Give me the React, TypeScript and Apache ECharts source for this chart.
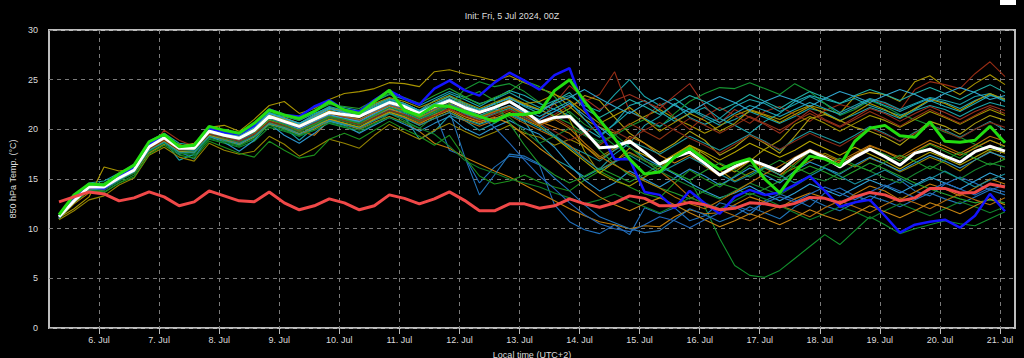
import React, { useEffect, useRef } from "react";
import * as echarts from "echarts";

const titleText = "Init: Fri, 5 Jul 2024, 00Z";
const yAxisName = "850 hPa Temp. (°C)";
const xAxisName = "Local time (UTC+2)";

// time: hours after 5 Jul 00:00 local
const firstHour = 8;
const stepHours = 6;
const axisMinHour = 4;
const axisMaxHour = 390;
const dayLabels = ["6. Jul", "7. Jul", "8. Jul", "9. Jul", "10. Jul", "11. Jul", "12. Jul", "13. Jul", "14. Jul", "15. Jul", "16. Jul", "17. Jul", "18. Jul", "19. Jul", "20. Jul", "21. Jul"];
const dayHours = [24, 48, 72, 96, 120, 144, 168, 192, 216, 240, 264, 288, 312, 336, 360, 384];
const yTicks = [0, 5, 10, 15, 20, 25, 30];

const meanT = [
  11.2, 12.8, 14.2, 14.2, 15.1, 15.9, 18.25, 19.15,
  18.1, 18.1, 19.8, 19.4, 19.1, 19.9, 21.3, 20.8,
  20.3, 21.0, 21.7, 21.5, 21.3, 22.0, 22.7, 22.3,
  21.6, 22.3, 22.9, 22.2, 21.7, 22.2, 22.8, 21.9,
  20.7, 21.2, 21.3, 19.8, 18.15, 18.25, 18.8, 17.7,
  16.5, 17.2, 17.7, 16.6, 15.4, 16.25, 16.95, 16.4,
  15.8, 17.0, 17.85, 17.15, 16.2, 17.2, 18.0, 17.25,
  16.4, 17.6, 18.0, 17.3, 16.7, 17.75, 18.3, 17.8,
];
const controlT = [
  11.4, 13.4, 14.5, 14.4, 15.5, 16.4, 18.75, 19.5,
  18.25, 18.4, 20.3, 19.9, 19.6, 20.6, 21.95, 21.45,
  21.1, 21.8, 22.8, 21.95, 21.6, 22.8, 23.95, 21.9,
  21.4, 22.4, 22.3, 21.8, 21.3, 20.8, 21.5, 21.5,
  21.75, 23.9, 25.0, 22.8, 20.95, 19.1, 17.0, 15.5,
  15.7, 17.2, 18.1, 16.95, 15.95, 16.6, 17.05, 15.0,
  13.6, 15.7, 17.3, 17.0, 16.35, 18.8, 20.1, 20.4,
  19.35, 19.2, 20.75, 18.8, 18.7, 18.9, 20.3, 18.65,
];
const operT = [
  11.2, 13.0, 14.2, 14.05, 15.2, 16.1, 18.5, 19.3,
  18.1, 18.2, 20.1, 19.7, 19.5, 20.4, 22.0, 21.45,
  21.3, 22.3, 22.95, 21.95, 21.8, 22.95, 23.9, 23.1,
  22.5, 24.1, 24.9, 23.95, 23.4, 24.7, 25.7, 24.9,
  24.0, 25.45, 26.15, 22.0, 19.8, 17.0, 17.0, 13.7,
  13.4, 12.05, 13.8, 12.55, 11.5, 13.2, 13.9, 13.4,
  13.65, 14.4, 15.3, 13.8, 12.2, 12.65, 12.9, 11.3,
  9.6, 10.4, 10.7, 10.9, 10.1, 11.3, 13.5, 11.75,
];
const climT = [
  12.7, 13.2, 13.7, 13.5, 12.8, 13.1, 13.7, 13.2,
  12.3, 12.7, 13.8, 13.3, 12.8, 12.7, 13.7, 12.6,
  11.9, 12.3, 13.0, 12.6, 11.9, 12.3, 13.4, 13.05,
  12.5, 13.0, 13.7, 12.85, 11.8, 11.8, 12.5, 12.5,
  12.05, 12.3, 13.0, 12.5, 12.15, 12.6, 13.3, 13.05,
  12.3, 12.3, 12.65, 12.4, 11.9, 12.05, 12.6, 12.5,
  12.2, 12.55, 13.15, 13.05, 12.6, 13.2, 13.65, 13.4,
  12.8, 13.1, 14.05, 14.05, 13.6, 13.65, 14.5, 14.2,
];

const mA = [11.0,13.2,14.6,14.8,15.6,16.4,18.8,19.6, 18.6,18.4,20.3,19.9,19.6,20.5,22.0,21.4, 21.0,21.8,22.6,22.2,21.9,22.8,23.5,23.0, 22.4,23.1,23.8,23.2,22.6,23.0,23.7,22.9, 22.2,22.9,23.4,22.4,21.8,23.5,25.0,23.3, 22.4,23.1,22.0,21.2,20.4,21.0,21.8,21.2, 20.6,21.3,22.1,21.7,20.9,21.5,22.2,21.7, 21.1,21.9,22.4,22.0,21.3,22.1,22.7,22.3];
const mB = [11.1,12.0,13.2,16.2,15.8,16.0,18.3,19.0, 18.5,18.0,20.2,20.4,19.8,21.0,22.4,22.8, 21.6,22.1,23.0,23.6,23.8,24.1,24.7,24.6, 24.3,25.8,26.0,25.6,25.3,24.9,25.4,24.7, 24.1,23.6,22.3,21.0,20.2,19.6,20.5,21.3, 22.0,21.1,20.4,19.6,20.3,21.4,22.0,21.5, 21.0,21.8,22.4,22.0,21.6,23.3,23.7,23.5, 22.8,24.8,25.4,24.3,23.5,24.6,25.5,24.5];
const mC = [11.3,13.0,14.3,14.1,15.0,15.7,18.0,19.9, 18.9,18.3,19.5,19.0,18.7,19.4,20.8,20.5, 20.0,20.4,21.0,20.6,20.1,20.9,21.6,21.2, 20.5,21.4,22.0,21.5,21.0,21.8,22.4,21.6, 20.8,21.5,22.4,22.8,23.5,25.8,21.8,21.0, 22.6,21.2,20.0,21.3,22.2,21.4,20.6,21.8, 22.3,21.5,20.8,21.9,22.5,22.1,23.0,22.6, 21.9,24.0,24.8,24.5,24.1,25.6,26.8,25.3];
const mD = [11.1,12.6,13.9,13.7,14.6,15.4,17.7,18.6, 17.6,17.3,19.0,18.6,18.2,18.8,20.2,19.8, 19.3,20.1,20.8,20.6,20.2,21.0,21.8,21.5, 20.8,21.6,22.3,21.7,21.0,21.5,22.2,21.4, 20.6,21.0,21.8,20.5,19.6,18.4,17.6,16.8, 16.2,15.6,14.9,12.2,9.0,6.3,5.3,5.1, 5.8,7.0,8.2,9.4,8.4,9.8,11.2,10.4, 9.5,10.0,10.4,10.8,10.5,10.3,11.0,11.7];
const mE = [11.4,13.3,14.4,14.5,15.5,16.5,18.4,19.2, 17.8,17.0,19.5,19.2,18.9,19.7,21.0,20.4, 19.8,20.6,21.3,21.2,20.9,21.6,22.2,21.9, 21.3,21.8,17.9,17.3,14.6,16.2,17.3,17.1, 16.4,12.4,10.7,9.9,9.5,10.4,9.4,12.1, 11.5,12.1,10.8,11.3,12.6,12.2,11.4,12.8, 13.5,12.9,12.2,13.6,14.1,13.3,12.8,14.2, 14.9,13.8,13.3,14.5,15.2,14.6,13.9,14.4];
const mF = [11.0,12.5,13.6,13.9,14.9,15.6,17.6,18.5, 18.0,17.6,19.3,19.0,18.6,19.3,20.7,20.2, 19.6,20.0,20.9,20.5,20.0,20.7,21.3,20.7, 19.8,18.6,18.1,17.2,16.5,15.8,15.2,14.4, 13.6,12.8,12.0,11.3,10.7,10.4,10.0,10.3, 10.2,11.2,11.9,11.5,11.6,12.4,13.2,12.7, 12.1,13.0,13.6,13.1,12.4,13.5,14.3,13.8, 12.9,13.7,14.5,14.0,13.3,14.1,15.0,14.5];
const mG = [11.3,13.0,14.1,14.3,15.2,16.0,18.1,18.8, 16.9,17.5,19.6,19.1,18.4,19.5,21.1,20.2, 18.9,20.2,21.2,20.8,20.4,21.2,22.0,21.3, 19.0,19.8,21.4,20.9,19.9,20.6,21.5,20.8, 18.6,17.0,16.2,15.2,16.0,17.5,18.6,20.4, 21.3,22.6,21.2,20.5,21.1,22.3,23.0,22.6, 21.8,22.5,23.3,22.6,21.7,22.4,23.1,22.7, 22.0,22.6,23.2,22.9,22.5,23.3,23.6,22.9];
const mH = [11.2,13.1,14.4,14.2,15.3,16.1,18.5,19.5, 18.3,18.6,20.0,19.5,19.3,20.0,21.5,21.2, 20.6,21.4,22.2,21.8,21.5,22.4,23.1,22.6, 21.9,22.6,23.3,22.5,21.8,22.6,23.2,22.5, 22.0,21.3,22.1,23.4,22.9,21.2,19.6,18.6, 17.7,18.6,19.8,18.9,17.4,18.2,19.4,18.6, 17.6,19.3,21.1,21.5,20.9,20.2,19.8,19.2, 18.4,19.6,20.8,20.3,19.5,20.6,21.4,20.9];
const mI = [10.9,11.8,12.9,13.3,14.4,15.1,17.4,18.2, 17.2,16.8,18.6,17.9,17.5,17.8,19.3,18.5, 17.3,18.1,19.0,18.6,18.1,19.4,20.5,19.7, 19.0,19.9,20.6,19.8,19.1,19.7,20.4,19.6, 19.2,18.4,19.0,18.3,17.2,18.1,19.0,17.6, 16.5,17.4,18.3,17.2,15.9,14.8,15.6,16.3, 15.4,16.1,16.8,17.6,16.9,16.2,17.1,16.5, 15.7,16.4,17.2,16.6,15.8,16.9,17.8,17.0];
const mJ = [11.2,12.8,14.0,14.0,14.9,15.8,18.0,18.9, 17.8,17.7,19.2,18.8,18.4,19.0,20.6,20.0, 19.4,19.9,20.6,20.2,19.7,20.5,21.6,20.9, 20.1,21.3,22.4,24.0,24.8,24.3,24.6,23.8, 22.7,21.3,20.6,19.5,18.8,19.4,20.3,21.0, 20.2,21.6,22.8,23.6,24.2,24.1,24.7,24.1, 23.5,24.6,23.8,22.6,21.4,22.0,22.9,22.3, 21.5,21.0,20.4,19.7,19.2,18.5,17.9,18.3];
const mK = [11.1,12.7,14.0,13.9,14.8,15.8,17.9,18.9, 17.9,17.6,19.4,19.0,18.6,19.4,20.8,20.3, 19.5,20.3,21.2,20.9,20.5,21.3,22.0,21.6, 20.8,21.5,21.9,17.3,13.4,15.4,17.5,17.3, 16.5,15.1,13.8,12.4,11.2,10.6,10.0,9.6, 9.8,10.9,12.0,11.4,10.7,11.3,12.2,11.6, 11.0,12.2,13.0,12.3,11.8,12.6,13.3,12.8, 12.2,12.9,13.6,13.0,12.5,13.2,13.9,13.4];
const mL = [11.0,12.6,13.8,13.6,14.6,15.2,17.5,18.4, 17.4,17.1,18.8,18.2,17.6,17.2,18.8,17.9, 17.1,17.4,19.0,19.6,19.0,19.9,20.8,20.0, 19.3,18.4,19.4,17.2,15.3,14.5,14.8,15.4, 14.7,14.2,13.8,14.9,15.8,15.0,14.2,13.5, 13.1,14.6,15.9,15.0,14.2,15.3,16.4,15.7, 15.1,16.4,17.7,17.0,16.4,17.3,18.1,17.5, 16.8,17.6,18.5,17.8,17.1,18.2,18.9,18.3];
const mM = [11.3,13.1,14.5,14.4,15.4,16.3,18.6,19.4, 18.2,18.3,20.1,19.7,19.5,20.3,21.6,21.3, 20.9,21.6,22.2,21.8,21.6,22.5,23.1,22.6, 21.9,22.9,23.6,23.0,22.3,23.1,23.9,23.4, 22.6,22.0,21.4,20.1,19.2,20.6,22.4,22.9, 21.8,20.8,21.6,22.2,21.1,20.4,19.6,20.8, 21.6,22.8,23.4,23.0,22.6,23.1,22.4,21.9, 21.4,22.0,22.9,22.3,21.8,22.6,23.4,23.1];
const mN = [11.2,12.9,14.3,14.4,15.0,15.8,18.1,19.2, 18.0,17.9,19.6,19.1,18.8,19.6,21.0,20.6, 19.8,19.4,20.9,21.0,20.8,21.8,22.5,22.1, 21.2,21.9,22.6,22.0,21.4,21.9,22.4,21.6, 20.8,20.2,19.6,18.3,17.0,17.9,19.3,18.6, 17.4,16.6,17.4,16.3,15.3,16.0,16.8,16.1, 15.4,16.6,17.8,17.2,16.6,17.4,18.3,17.8, 17.0,17.8,18.6,18.0,17.4,18.1,18.9,18.3];
const mO = [11.1,12.8,14.1,14.2,15.1,15.9,18.3,19.0, 18.0,18.1,19.7,19.3,19.0,19.7,21.2,20.7, 20.1,20.8,21.5,21.2,20.9,21.7,22.4,21.9, 21.1,21.8,22.4,21.6,21.1,21.7,22.3,21.5, 20.9,22.6,24.4,23.1,22.0,22.9,23.5,22.8, 22.1,23.4,24.6,22.4,20.6,22.0,21.2,20.5, 19.6,20.8,21.9,21.0,20.3,21.2,22.1,21.6, 20.8,21.6,22.3,21.7,21.0,21.8,22.4,21.9];
const mP = [11.0,12.7,13.9,14.1,15.1,15.8,18.0,18.7, 17.5,17.9,19.3,18.7,17.8,18.9,20.6,19.4, 18.6,19.6,20.8,20.4,19.6,20.4,21.2,20.5, 19.8,20.6,21.3,20.1,19.4,20.2,20.9,20.1, 19.5,18.2,16.4,14.9,13.8,14.6,15.8,15.0, 14.2,15.1,16.0,15.3,14.4,15.2,16.1,15.4, 14.6,15.8,16.7,16.1,15.5,16.4,17.2,16.5, 15.8,16.6,17.4,16.8,16.1,16.9,17.7,17.2];
const mQ = [11.3,13.0,14.2,14.0,15.0,15.7,18.0,19.0, 18.4,18.2,19.9,19.6,19.2,20.1,21.4,21.0, 20.4,21.3,22.1,21.9,21.7,22.6,23.2,22.8, 22.2,22.8,23.4,22.7,22.1,22.7,23.3,22.6, 22.0,22.6,21.0,17.8,15.6,14.8,14.3,15.2, 16.1,17.3,18.4,17.5,16.5,15.7,16.8,18.0, 18.9,20.5,21.3,20.6,19.8,20.6,21.4,20.9, 20.2,21.0,21.8,21.2,20.5,21.3,22.0,21.4];
const mR = [11.2,12.8,14.2,14.3,15.0,15.9,18.2,19.1, 17.9,18.0,19.6,19.2,18.9,19.8,21.1,20.6, 20.0,20.7,21.4,21.0,20.7,21.5,22.1,21.7, 21.0,21.7,22.3,21.6,21.0,21.6,22.1,21.2, 20.5,19.4,18.3,17.6,16.8,17.9,18.8,18.2, 17.5,18.4,19.3,18.6,17.9,18.7,19.5,18.8, 17.9,19.0,19.8,19.2,18.6,19.4,20.3,19.6, 18.8,19.7,20.4,19.9,19.2,20.0,20.8,19.9];
const mS = [11.4,13.2,14.5,14.6,15.4,16.2,18.5,19.3, 18.4,18.3,20.2,19.8,19.5,20.3,21.7,21.4, 20.9,21.8,22.5,22.3,22.1,22.9,23.6,23.2, 22.6,23.4,24.1,23.3,22.5,23.2,23.8,24.9, 24.3,23.3,21.6,19.8,17.9,16.5,15.4,14.8, 14.1,13.6,13.0,13.8,14.6,14.1,13.4,14.0, 14.8,15.6,16.3,15.7,15.0,15.8,16.6,16.0, 15.3,14.6,14.0,13.5,13.0,12.6,12.9,12.6];
const mT = [11.1,12.7,14.0,14.1,15.1,15.7,17.9,18.8, 17.7,17.8,19.4,19.0,18.5,19.3,20.7,20.1, 19.5,20.2,21.0,20.6,20.2,21.1,21.8,21.2, 20.4,21.1,21.7,20.9,20.3,20.9,21.4,20.6, 19.9,19.2,18.4,17.1,15.9,16.8,17.7,16.9, 15.8,14.6,13.2,12.5,11.9,11.3,10.8,11.6, 12.3,11.8,11.2,12.1,12.8,12.2,11.6,12.4, 13.1,12.6,12.0,12.8,13.5,12.9,12.4,13.1];
const mU = [11.3,13.0,14.3,14.5,15.3,16.0,18.3,19.2, 18.1,18.2,20.0,19.5,19.3,20.1,21.4,21.0, 20.5,21.2,22.0,21.7,21.4,22.2,22.9,22.5, 21.8,22.6,23.3,22.6,22.0,22.5,23.2,22.3, 21.6,22.8,23.7,22.1,21.2,22.0,23.0,22.3, 21.5,22.5,23.4,22.8,21.9,22.6,23.5,22.8, 22.1,23.0,23.8,23.2,22.6,23.4,24.0,23.5, 22.9,23.6,24.2,23.6,23.0,23.8,24.5,23.7];
const mV = [11.2,12.9,14.1,14.0,15.0,15.9,18.1,18.9, 18.0,17.8,19.6,19.3,19.0,19.8,21.0,20.5, 20.0,20.8,21.5,21.1,20.8,21.6,22.3,21.8, 21.2,21.9,22.5,21.8,21.3,21.9,22.4,21.7, 21.0,21.8,22.6,21.4,20.2,19.0,18.2,17.1, 16.3,15.5,14.6,13.8,13.1,13.6,14.3,13.5, 12.8,13.6,14.5,13.9,13.3,14.1,14.9,14.3, 13.6,14.4,15.2,14.6,14.0,14.8,15.6,15.0];
const mW = [11.0,12.6,13.9,14.0,14.9,15.7,17.9,18.8, 17.8,17.7,19.4,18.9,18.5,19.2,20.5,20.1, 19.5,20.3,21.0,20.6,20.2,21.0,21.7,21.3, 20.6,21.3,21.9,21.1,20.6,21.1,21.7,21.0, 20.3,19.2,18.0,16.8,15.6,16.7,18.1,17.4, 16.6,17.5,18.4,17.7,16.9,17.7,18.6,17.9, 17.2,17.9,18.8,18.1,17.4,18.2,17.5,16.8, 16.0,16.9,17.7,17.1,16.4,17.2,18.0,17.6];
const mX = [11.1,12.7,13.8,13.9,14.8,15.6,17.8,18.6, 17.6,17.5,19.1,18.7,18.3,19.1,20.4,19.9, 19.3,19.9,20.7,20.3,19.9,20.6,21.2,20.7, 20.1,19.5,18.3,16.9,16.1,15.6,15.0,14.6, 14.2,13.6,13.1,12.5,12.9,13.5,12.8,12.2, 11.6,12.3,13.1,12.6,12.0,12.8,13.6,13.0, 12.3,11.6,10.9,11.5,12.2,11.7,11.0,11.8, 12.5,11.9,11.3,12.0,12.7,12.2,11.6,12.2];
const mY = [11.2,12.9,14.2,14.3,15.2,16.0,18.2,19.0, 18.1,18.0,19.7,19.3,18.9,19.6,20.9,20.4, 19.8,20.5,21.2,20.8,20.4,21.2,21.9,21.4, 20.7,21.4,22.0,21.3,20.7,21.3,21.9,21.1, 20.4,21.2,20.3,19.4,18.4,19.5,20.6,19.8, 19.0,20.1,21.1,20.4,19.6,20.4,21.3,20.6, 19.9,20.8,21.6,20.9,20.2,21.0,21.8,21.1, 20.3,21.2,22.0,21.3,20.6,21.4,22.2,21.6];
const mZ1 = [11.1,12.9,14.3,14.4,15.2,16.1,18.4,19.3, 18.2,18.4,20.1,19.6,19.2,20.2,21.7,21.1, 20.6,21.5,22.3,21.9,21.5,22.3,23.0,22.6, 21.9,22.4,23.0,22.1,21.4,22.0,22.9,22.0, 21.3,22.1,22.8,21.0,19.4,20.5,21.8,21.1, 20.3,21.2,22.1,21.4,20.7,21.6,22.4,21.9, 21.3,22.0,22.7,22.1,21.5,22.2,23.0,22.4, 21.8,22.5,23.1,22.7,22.1,22.9,23.5,22.8];
const mZ2 = [11.2,12.8,14.1,14.0,15.0,15.8,18.0,18.9, 17.9,18.0,19.6,19.1,18.8,19.5,20.9,20.4, 19.9,20.5,21.3,20.9,20.5,21.4,22.1,21.5, 20.9,21.5,22.1,21.3,20.8,21.2,20.6,19.4, 18.1,17.0,15.6,14.3,13.2,12.4,11.8,12.5, 13.1,12.4,11.6,10.9,10.2,10.8,11.5,11.0, 10.4,11.1,11.9,11.3,10.8,11.5,12.3,11.7, 11.1,11.8,12.6,12.1,11.5,12.3,13.0,12.4];
const mZ3 = [11.3,13.0,14.2,14.2,15.0,15.9,18.2,19.0, 18.0,17.9,19.7,19.2,18.8,19.7,21.1,20.6, 20.1,20.9,21.7,21.3,21.0,21.8,22.5,22.0, 21.4,22.0,22.6,21.9,21.4,20.2,18.6,16.9, 15.3,14.0,12.6,11.4,10.5,10.0,9.7,10.4, 11.2,10.8,10.1,10.9,11.6,12.3,11.8,12.6, 13.2,12.7,13.5,14.2,13.6,12.9,13.7,14.4, 13.8,13.1,13.9,14.6,14.0,13.4,14.1,13.7];
const mZ4 = [11.0,12.7,14.0,14.1,15.0,15.9,18.1,19.0, 18.2,18.1,19.9,19.5,19.2,20.0,21.4,21.0, 20.4,21.1,21.9,21.5,21.2,22.0,22.7,22.2, 21.5,22.1,22.8,22.2,21.6,22.3,23.0,22.6, 22.8,23.5,22.9,21.7,20.6,21.4,22.2,21.0, 19.8,20.7,21.6,20.9,19.8,20.6,21.9,21.4, 20.7,21.5,22.3,21.6,20.8,21.7,22.6,22.0, 21.2,22.1,23.0,22.6,21.9,22.8,23.6,23.0];
const mZ5 = [11.2,12.8,14.0,14.1,15.0,15.8,18.1,18.9, 17.9,17.8,19.5,19.1,18.7,19.4,20.8,20.3, 19.7,20.4,21.2,20.8,20.4,21.2,21.9,21.4, 20.8,21.6,22.4,21.8,21.3,21.9,21.2,19.8, 18.6,19.3,20.1,19.4,18.6,19.5,18.2,16.9, 15.8,15.0,14.3,13.6,13.0,13.8,14.6,14.0, 13.4,14.3,15.2,14.8,15.6,16.4,15.8,15.1, 14.6,15.5,16.3,15.7,15.0,15.9,16.6,16.2];
const mZ6 = [11.3,13.1,14.4,14.5,15.3,16.1,18.4,19.3, 18.3,18.2,20.0,19.6,19.3,20.2,21.6,21.1, 20.6,21.3,22.1,21.7,21.3,22.1,22.8,22.4, 21.7,22.5,23.1,22.4,21.9,22.6,23.1,22.4, 21.9,22.6,23.2,24.0,23.1,22.3,21.6,22.5, 23.2,22.4,21.7,22.6,23.3,22.7,21.9,22.8, 23.4,22.9,22.3,23.1,23.8,23.3,22.7,23.4, 24.0,23.5,22.8,23.6,24.2,23.7,23.0,23.4];
const mZ7 = [11.1,12.8,14.1,14.0,15.0,15.8,18.0,18.9, 17.9,18.0,19.5,19.2,18.8,19.5,20.8,20.4, 19.9,20.6,21.3,20.9,20.5,21.2,21.9,21.5, 20.9,21.4,22.1,21.4,20.9,21.5,22.0,21.3, 20.6,19.8,18.9,19.6,20.5,19.8,19.0,19.9, 20.7,19.9,19.1,18.4,17.6,18.5,19.4,18.7, 18.0,18.8,19.6,18.9,18.3,19.2,20.1,19.5, 18.8,19.6,20.4,19.8,19.1,20.0,20.7,20.2];
const mZ8 = [11.2,12.9,14.2,14.2,15.1,15.9,18.2,19.0, 18.0,18.1,19.8,19.3,19.0,19.8,21.2,20.7, 20.2,20.9,21.6,21.3,21.0,21.7,22.4,21.9, 21.2,21.9,22.5,21.7,21.2,21.8,22.3,21.5, 20.4,21.0,20.1,18.6,17.3,16.4,15.6,14.8, 14.1,13.2,12.5,12.0,12.8,13.7,14.6,15.5, 16.3,17.2,18.0,17.4,16.8,17.6,18.4,17.8, 17.2,18.1,18.9,18.3,17.6,18.4,19.3,18.8];
const mZ9 = [11.3,13.0,14.3,14.3,15.2,16.0,18.3,19.1, 18.1,18.0,19.7,19.3,19.0,19.7,21.0,20.5, 19.9,20.5,21.3,21.0,20.6,21.4,22.2,21.8, 21.1,21.8,22.6,23.2,23.8,22.9,20.6,18.4, 16.5,15.4,14.6,15.3,16.1,15.4,14.7,15.5, 16.4,15.6,14.9,15.8,16.6,15.9,15.2,16.1, 16.9,16.2,15.5,16.3,17.1,16.4,15.8,16.7, 17.4,16.8,16.0,16.9,17.7,17.1,16.4,17.0];
const mZ10 = [11.0,12.7,13.9,14.0,14.9,15.7,17.9,18.7, 17.7,17.7,19.3,18.9,18.5,19.3,20.6,20.1, 19.5,20.2,20.9,20.5,20.1,20.9,21.6,21.1, 20.4,21.1,21.7,21.0,20.5,21.0,21.6,20.9, 20.1,19.3,18.2,17.0,15.9,16.7,17.4,16.5, 15.6,16.4,17.2,16.4,15.5,14.7,15.4,16.2, 15.4,14.6,15.3,16.1,15.3,14.5,15.2,15.9, 15.1,14.3,15.0,15.8,15.0,14.2,14.9,15.5];

const members = [mA, mB, mC, mD, mE, mF, mG, mH, mI, mJ, mK, mL, mM, mN, mO, mP, mQ, mR, mS, mT, mU, mV, mW, mX, mY, mZ1, mZ2, mZ3, mZ4, mZ5, mZ6, mZ7, mZ8, mZ9, mZ10];
const memberColors = [
  "#1aa2a8", "#a89400", "#962c14", "#12902c", "#2070bc",
  "#c07c0a", "#1a9ea8", "#ab9e10", "#948400", "#169432",
  "#2274b8", "#1c901c", "#1caab4", "#c47c0e", "#9a2f1e",
  "#2c94cc", "#a09400", "#1c949a", "#24a02c", "#b06a0c",
  "#22aca4", "#30a0d4", "#b4a400", "#10802a", "#903214",
  "#1aa4b8", "#c48412", "#246abc", "#ac9600", "#14822e",
  "#30a4cc", "#862a16", "#b4700a", "#1e982a", "#168e9c",
];

const toPairs = (vals: number[]) => vals.map((v, i) => [firstHour + stepHours * i, v]);

export default function App() {
  const ref = useRef<HTMLDivElement>(null);
  useEffect(() => {
    if (!ref.current) return;
    const chart = echarts.init(ref.current, null, { renderer: "svg" });
    const font = "'Liberation Sans', Arial, sans-serif";
    const labelColor = "#dcdcdc";
    const thin = members.map((m, k) => ({
      type: "line",
      data: toPairs(m),
      symbol: "none",
      silent: true,
      lineStyle: { width: 1.1, color: memberColors[k] },
      z: 2,
    }));
    const option: any = {
      animation: false,
      backgroundColor: "#000000",
      title: {
        text: titleText,
        left: "center",
        top: 6,
        textStyle: { color: labelColor, fontSize: 9, fontWeight: "normal", fontFamily: font },
      },
      graphic: [
        { type: "rect", shape: { x: 1000, y: 0, width: 16, height: 5 }, style: { fill: "#ffffff" } },
      ],
      grid: {
        left: 49,
        right: 9,
        top: 30,
        bottom: 30,
        containLabel: false,
        outerBoundsMode: "none",
        show: true,
        borderColor: "#bdbdbd",
        borderWidth: 2,
        backgroundColor: "transparent",
      },
      xAxis: {
        type: "value",
        min: axisMinHour,
        max: axisMaxHour,
        minInterval: 24,
        maxInterval: 24,
        splitNumber: 16,
        name: xAxisName,
        nameLocation: "middle",
        nameGap: 22,
        nameTextStyle: { color: labelColor, fontSize: 9, fontFamily: font },
        axisLine: { show: false },
        axisTick: { show: true, length: 6, inside: false, lineStyle: { color: "#bdbdbd" }, customValues: dayHours },
        axisLabel: {
          color: labelColor,
          fontSize: 9,
          fontFamily: font,
          margin: 7,
          customValues: dayHours,
          formatter: (v: number) => {
            const k = dayHours.indexOf(v);
            return k >= 0 ? dayLabels[k] : "";
          },
        },
        splitLine: { show: true, lineStyle: { color: "#7a7a7a", type: [4, 4], width: 1 } },
      },
      yAxis: {
        type: "value",
        min: yTicks[0],
        max: yTicks[yTicks.length - 1],
        interval: 5,
        name: yAxisName,
        nameLocation: "middle",
        nameGap: 32,
        nameTextStyle: { color: labelColor, fontSize: 9, fontFamily: font },
        axisLine: { show: false },
        axisTick: { show: false },
        axisLabel: { color: labelColor, fontSize: 9, fontFamily: font, margin: 11 },
        splitLine: { show: true, lineStyle: { color: "#7a7a7a", type: [4, 4], width: 1 } },
      },
      series: [
        ...thin,
        { type: "line", data: toPairs(operT), symbol: "none", silent: true, lineStyle: { width: 2.5, color: "#1414ff" }, z: 3 },
        { type: "line", data: toPairs(meanT), symbol: "none", silent: true, lineStyle: { width: 3, color: "#ffffff" }, z: 4 },
        { type: "line", data: toPairs(controlT), symbol: "none", silent: true, lineStyle: { width: 3, color: "#22dd10" }, z: 5 },
        { type: "line", data: toPairs(climT), symbol: "none", silent: true, lineStyle: { width: 3, color: "#f04848" }, z: 6 },
      ],
    };
    chart.setOption(option);
    return () => chart.dispose();
  }, []);
  return <div ref={ref} style={{ position: "fixed", left: 0, top: 0, width: 1024, height: 358 }} />;
}
